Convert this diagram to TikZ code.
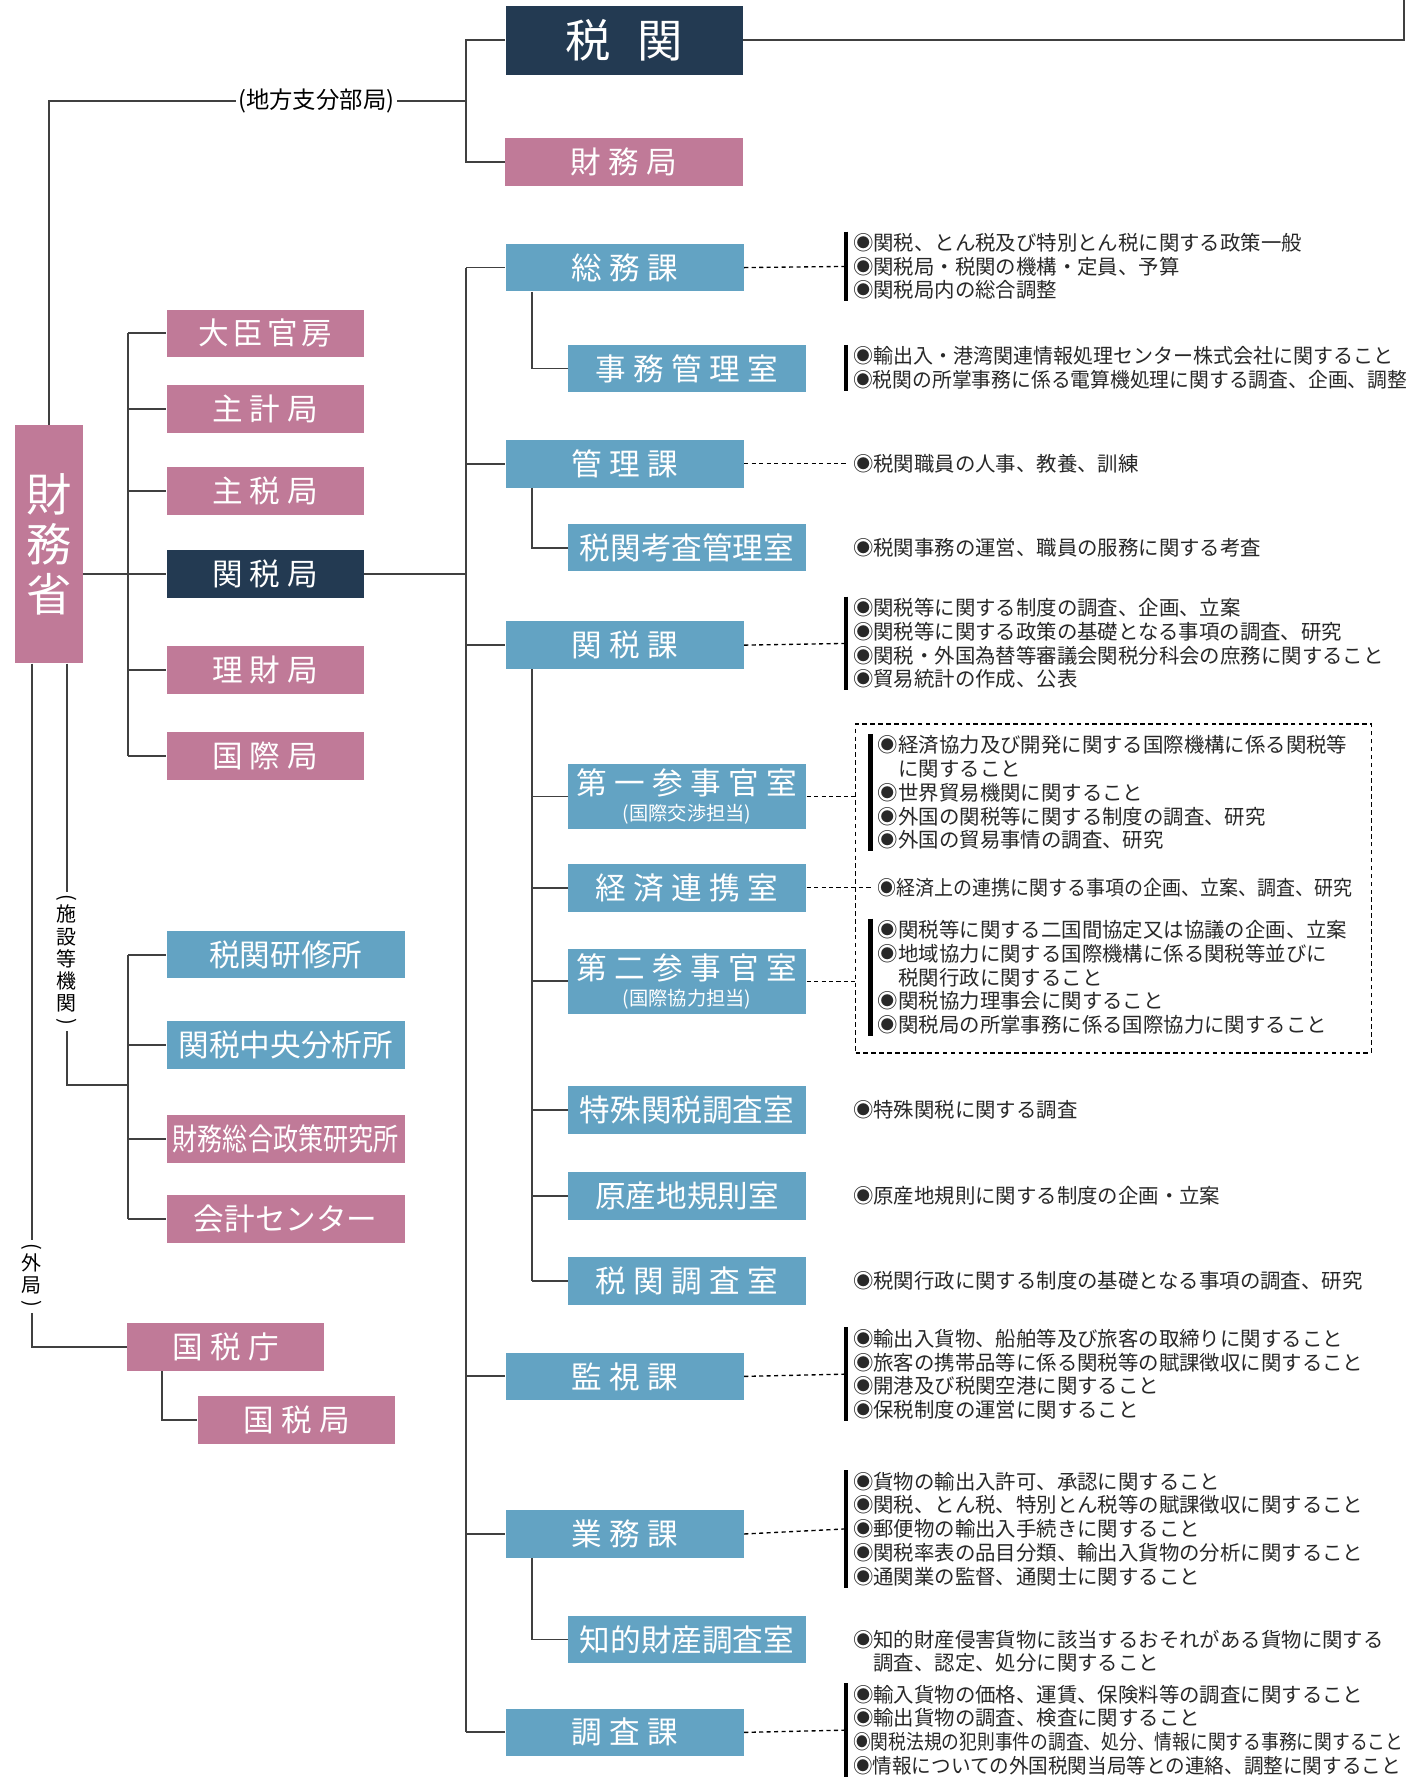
\documentclass[tikz,border=0pt]{standalone}
\usepackage{fontspec}
\usepackage{graphicx}
\setmainfont{Noto Sans CJK JP}
\newfontfamily\widejp[LetterSpace=24]{Noto Sans CJK JP}
\newfontfamily\midjp[LetterSpace=12]{Noto Sans CJK JP}
\usetikzlibrary{positioning}

\definecolor{mofpink}{RGB}{192,122,152}
\definecolor{cusblue}{RGB}{99,163,195}
\definecolor{cusnavy}{RGB}{35,58,82}
\definecolor{linegray}{RGB}{64,64,64}
\definecolor{desctext}{RGB}{40,40,40}

\tikzset{
  org/.style={inner sep=0pt, text=white, minimum height=21pt, font=\fontsize{13.5}{11.5}\selectfont},
  pinkorg/.style={org, fill=mofpink},
  blueorg/.style={org, fill=cusblue},
  navyorg/.style={org, fill=cusnavy},
  wide/.style={font=\widejp\fontsize{13.5}{11.5}\selectfont},
  mid/.style={font=\midjp\fontsize{13.5}{11.5}\selectfont},
  mainw/.style={minimum width=105pt},
  bureauw/.style={minimum width=87pt},
  twoline/.style={minimum height=28.5pt, align=center},
  desc/.style={anchor=west, align=left, inner xsep=3pt, inner ysep=0.5pt, text=desctext, font=\fontsize{9}{10.5}\selectfont},
  vlabel/.style={align=center, inner sep=1pt, font=\fontsize{8.8}{9.8}\selectfont},
  link/.style={line width=0.8pt, linegray},
  dotlink/.style={line width=0.6pt, black, dash pattern=on 1.8pt off 1.5pt},
  bar/.style={line width=2pt, black},
  groupbox/.style={draw, line width=0.6pt, dash pattern=on 2pt off 1.5pt, inner sep=0pt, anchor=north west}
}
\newcommand{\subnote}[1]{{\fontsize{8.5}{9}\selectfont #1}}
\newcommand{\squeeze}[2]{\scalebox{#1}[1]{#2}}
\newcommand{\vopen}{\rotatebox[origin=c]{-90}{(}}
\newcommand{\vclose}{\rotatebox[origin=c]{-90}{)}}

\begin{document}
\begin{tikzpicture}[x=0.5pt, y=-0.5pt]
  \fill[white] (0,0) rectangle (1243,1570);
  \useasboundingbox (0,0) rectangle (1243,1570);

  % guide coordinates
  \coordinate (trunkR) at (411,0);
  \coordinate (subR) at (469,0);
  \coordinate (trunkL) at (113,0);
  \coordinate (facX) at (59,0);
  \coordinate (gaiX) at (28,0);
  \coordinate (kzX) at (143,0);
  \coordinate (topR) at (1238,0);
  \coordinate (facJoin) at (113,957);

  % top
  \node[navyorg, minimum width=104.5pt, minimum height=30.5pt, font=\fontsize{20}{20}\selectfont] (zeikan) at (550.5,35.5) {税\hspace{12pt}関};
  \node[pinkorg, mainw, wide] (zaimukyoku) at (550.5,143) {財務局};
  \node[font=\fontsize{10.3}{12}\selectfont, inner sep=1pt] (chiho) at (279,89) {(地方支分部局)};

  % ministry
  \node[pinkorg, minimum width=30pt, minimum height=105pt, align=center, font=\fontsize{20}{22}\selectfont] (zaimusho) at (43,480) {財\\務\\省};

  % bureaus
  \node[pinkorg, bureauw, mid] (daijin) at (234,294) {大臣官房};
  \node[pinkorg, bureauw, wide] (shukei) at (234,361) {主計局};
  \node[pinkorg, bureauw, wide] (shuzei) at (234,433) {主税局};
  \node[navyorg, bureauw, wide] (kanzeikyoku) at (234,506) {関税局};
  \node[pinkorg, bureauw, wide] (rizai) at (234,591) {理財局};
  \node[pinkorg, bureauw, wide] (kokusai) at (234,667) {国際局};

  % facilities and external bureau
  \node[vlabel] (shisetsu) at (59,848) {\vopen\\[-2pt]施\\設\\等\\機\\関\\[-2pt]\vclose};
  \node[blueorg, mainw] (kenshu) at (252,842) {税関研修所};
  \node[blueorg, mainw] (bunseki) at (252,921.5) {関税中央分析所};
  \node[pinkorg, mainw] (soken) at (252,1004.5) {\squeeze{0.82}{財務総合政策研究所}};
  \node[pinkorg, mainw] (kaikei) at (252,1075) {会計センター};
  \node[vlabel] (gaikyoku) at (28,1126) {\vopen\\[-2pt]外\\局\\[-2pt]\vclose};
  \node[pinkorg, bureauw, wide] (kokuzeicho) at (199,1188) {国税庁};
  \node[pinkorg, bureauw, wide] (kokuzeikyoku) at (261.5,1252.5) {国税局};

  % divisions
  \node[blueorg, mainw, wide] (somu) at (551,236) {総務課};
  \node[blueorg, mainw, wide] (kanri) at (551,409) {管理課};
  \node[blueorg, mainw, wide] (kanzeika) at (551,569) {関税課};
  \node[blueorg, mainw, wide] (kanshi) at (551,1214) {監視課};
  \node[blueorg, mainw, wide] (gyomu) at (551,1353) {業務課};
  \node[blueorg, mainw, wide] (chosaka) at (551,1528) {調査課};

  % offices
  \node[blueorg, mainw, wide] (jimukanri) at (606,325) {事務管理室};
  \node[blueorg, mainw] (kosa) at (606,483) {税関考査管理室};
  \node[blueorg, mainw, twoline] (sanji1) at (606,702.5) {{\widejp 第一参事官室}\\\subnote{(国際交渉担当)}};
  \node[blueorg, mainw, wide] (keizai) at (606,783) {経済連携室};
  \node[blueorg, mainw, twoline] (sanji2) at (606,865.5) {{\widejp 第二参事官室}\\\subnote{(国際協力担当)}};
  \node[blueorg, mainw] (tokushu) at (606,979) {特殊関税調査室};
  \node[blueorg, mainw] (gensan) at (606,1055) {原産地規則室};
  \node[blueorg, mainw, wide] (chosashitsu) at (606,1130) {税関調査室};
  \node[blueorg, mainw] (chiteki) at (606,1446) {知的財産調査室};

  % duties
  \node[desc] (somu-d) at (746,235) {◉関税、とん税及び特別とん税に関する政策一般\\◉関税局・税関の機構・定員、予算\\◉関税局内の総合調整};
  \node[desc] (jimukanri-d) at (746,324.5) {\squeeze{0.98}{◉輸出入・港湾関連情報処理センター株式会社に関すること}\\\squeeze{0.97}{◉税関の所掌事務に係る電算機処理に関する調査、企画、調整}};
  \node[desc] (kanri-d) at (746,409) {◉税関職員の人事、教養、訓練};
  \node[desc] (kosa-d) at (746,483) {◉税関事務の運営、職員の服務に関する考査};
  \node[desc] (kanzeika-d) at (746,567.5) {◉関税等に関する制度の調査、企画、立案\\◉関税等に関する政策の基礎となる事項の調査、研究\\◉関税・外国為替等審議会関税分科会の庶務に関すること\\◉貿易統計の作成、公表};
  \node[groupbox, minimum width=227.5pt, minimum height=145pt] (kokusaigrp) at (754,638) {};
  \node[desc] (sanji1-d) at (768,699) {◉経済協力及び開発に関する国際機構に係る関税等\\\phantom{◉}に関すること\\◉世界貿易機関に関すること\\◉外国の関税等に関する制度の調査、研究\\◉外国の貿易事情の調査、研究};
  \node[desc] (keizai-d) at (768,783) {\squeeze{0.93}{◉経済上の連携に関する事項の企画、立案、調査、研究}};
  \node[desc] (sanji2-d) at (768,862) {◉関税等に関する二国間協定又は協議の企画、立案\\◉地域協力に関する国際機構に係る関税等並びに\\\phantom{◉}税関行政に関すること\\◉関税協力理事会に関すること\\◉関税局の所掌事務に係る国際協力に関すること};
  \node[desc] (tokushu-d) at (746,979) {◉特殊関税に関する調査};
  \node[desc] (gensan-d) at (746,1055) {◉原産地規則に関する制度の企画・立案};
  \node[desc] (chosashitsu-d) at (746,1130) {◉税関行政に関する制度の基礎となる事項の調査、研究};
  \node[desc] (kanshi-d) at (746,1212) {◉輸出入貨物、船舶等及び旅客の取締りに関すること\\◉旅客の携帯品等に係る関税等の賦課徴収に関すること\\◉開港及び税関空港に関すること\\◉保税制度の運営に関すること};
  \node[desc] (gyomu-d) at (746,1348.5) {◉貨物の輸出入許可、承認に関すること\\◉関税、とん税、特別とん税等の賦課徴収に関すること\\◉郵便物の輸出入手続きに関すること\\◉関税率表の品目分類、輸出入貨物の分析に関すること\\◉通関業の監督、通関士に関すること};
  \node[desc] (chiteki-d) at (746,1456.5) {◉知的財産侵害貨物に該当するおそれがある貨物に関する\\\phantom{◉}調査、認定、処分に関すること};
  \node[desc] (chosaka-d) at (746,1526) {◉輸入貨物の価格、運賃、保険料等の調査に関すること\\◉輸出貨物の調査、検査に関すること\\\squeeze{0.87}{◉関税法規の犯則事件の調査、処分、情報に関する事務に関すること}\\\squeeze{0.96}{◉情報についての外国税関当局等との連絡、調整に関すること}};

  % links: local offices
  \draw[link] (zaimusho.north) |- (chiho.west);
  \draw[link] (chiho.east) -- (trunkR |- chiho.east);
  \draw[link] (zeikan.west) -| (trunkR |- zaimukyoku.west) -- (zaimukyoku.west);
  \draw[link] (zeikan.east) -| (topR);

  % links: bureaus
  \draw[link] (zaimusho.east |- kanzeikyoku.west) -- (kanzeikyoku.west);
  \draw[link] (trunkL |- daijin.west) -- (trunkL |- kokusai.west);
  \foreach \n in {daijin,shukei,shuzei,rizai,kokusai}
    \draw[link] (trunkL |- \n.west) -- (\n.west);
  \draw[link] (kanzeikyoku.east) -- (trunkR |- kanzeikyoku.east);

  % links: divisions and offices
  \draw[link] (trunkR |- somu.west) -- (trunkR |- chosaka.west);
  \foreach \n in {somu,kanri,kanzeika,kanshi,gyomu,chosaka}
    \draw[link] (trunkR |- \n.west) -- (\n.west);
  \draw[link] (subR |- somu.south) |- (jimukanri.west);
  \draw[link] (subR |- kanri.south) |- (kosa.west);
  \draw[link] (subR |- kanzeika.south) -- (subR |- chosashitsu.west);
  \foreach \n in {sanji1,keizai,sanji2,tokushu,gensan,chosashitsu}
    \draw[link] (subR |- \n.west) -- (\n.west);
  \draw[link] (subR |- gyomu.south) |- (chiteki.west);

  % links: facilities, external bureau
  \draw[link] (facX |- zaimusho.south) -- (shisetsu.north);
  \draw[link] (shisetsu.south) |- (facJoin);
  \draw[link] (trunkL |- kenshu.west) -- (trunkL |- kaikei.west);
  \foreach \n in {kenshu,bunseki,soken,kaikei}
    \draw[link] (trunkL |- \n.west) -- (\n.west);
  \draw[link] (gaiX |- zaimusho.south) -- (gaikyoku.north);
  \draw[link] (gaikyoku.south) |- (kokuzeicho.west);
  \draw[link] (kzX |- kokuzeicho.south) |- (kokuzeikyoku.west);

  % duty leaders and bars
  \foreach \n in {somu,kanri,kanzeika,kanshi,gyomu,chosaka}
    \draw[dotlink] (\n.east) -- (\n-d.west);
  \draw[dotlink] (sanji1.east) -- (sanji1.east -| kokusaigrp.west);
  \draw[dotlink] (sanji2.east) -- (sanji2.east -| kokusaigrp.west);
  \draw[dotlink] (keizai.east) -- (keizai-d.west);
  \foreach \n in {somu,jimukanri,kanzeika,sanji1,sanji2,kanshi,gyomu,chosaka}
    \draw[bar] (\n-d.north west) -- (\n-d.south west);
\end{tikzpicture}
\end{document}
